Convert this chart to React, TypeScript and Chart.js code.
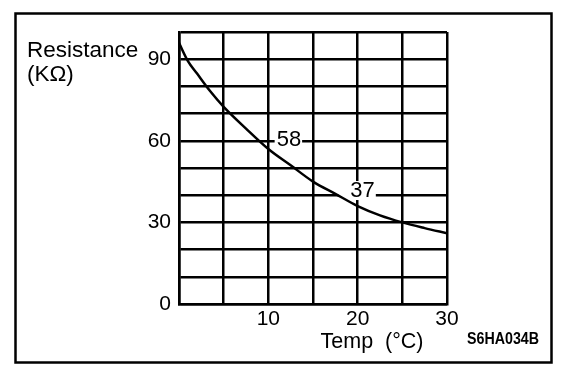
import React, { useEffect, useRef } from "react";
import { Chart, registerables } from "chart.js";

Chart.register(...registerables);

// Data
const temps = [0, 1, 2, 3.5, 5, 7.5, 10, 12.5, 15, 17.5, 20, 22.5, 25, 27.5, 30];
const resistance = [96, 89.3, 84.8, 78.2, 72.5, 64.5, 57, 51, 45, 40.5, 36, 32.6, 30, 27.9, 26];

const xTickLabels = ["10", "20", "30"];
const yTickLabels = ["0", "30", "60", "90"];

const annoLabels = ["58", "37"];
const annoTemps = [12.3, 20.55];
const annoValues = [60.6, 41.9];

const yTitleLines = ["Resistance", "(K\u03A9)"];
const xTitle = "Temp  (\u00B0C)";
const figureCode = "S6HA034B";

const FONT = "'Liberation Sans', Arial, Helvetica, sans-serif";

const decorPlugin = {
  id: "decor",
  beforeDatasetsDraw(chart: any) {
    const ctx = chart.ctx;
    const xs = chart.scales.x;
    const ys = chart.scales.y;
    const gapLeft = [2, 12];
    const gapRight = [1, 1];
    ctx.save();
    ctx.font = `22px ${FONT}`;
    ctx.textAlign = "center";
    ctx.textBaseline = "middle";
    annoLabels.forEach((lab, i) => {
      const px = xs.getPixelForValue(annoTemps[i]);
      const py = ys.getPixelForValue(annoValues[i]);
      const w = ctx.measureText(lab).width;
      ctx.fillStyle = "#fff";
      ctx.fillRect(px - w / 2 - gapLeft[i], py - 9, w + gapLeft[i] + gapRight[i], 19);
      ctx.fillStyle = "#000";
      ctx.fillText(lab, px, py + 1);
    });
    ctx.restore();
  },
  afterDraw(chart: any) {
    const ctx = chart.ctx;
    ctx.save();
    // outer frame
    ctx.strokeStyle = "#000";
    ctx.lineWidth = 2.5;
    ctx.strokeRect(15.5, 13.5, 536, 349);
    // y title
    ctx.fillStyle = "#000";
    ctx.textAlign = "left";
    ctx.textBaseline = "alphabetic";
    ctx.font = `22.5px ${FONT}`;
    ctx.fillText(yTitleLines[0], 27, 57);
    ctx.fillText(yTitleLines[1], 27, 81);
    // x title
    ctx.font = `21.5px ${FONT}`;
    ctx.textAlign = "center";
    ctx.fillText(xTitle, 372, 348);
    // figure code, condensed
    ctx.font = `bold 16px ${FONT}`;
    const w = ctx.measureText(figureCode).width;
    ctx.translate(467, 344);
    ctx.scale(72 / w, 1);
    ctx.textAlign = "left";
    ctx.fillText(figureCode, 0, 0);
    ctx.restore();
  },
};

export default function App() {
  const ref = useRef<HTMLCanvasElement | null>(null);
  useEffect(() => {
    if (!ref.current) return;
    const chart = new Chart(ref.current, {
      type: "line",
      data: {
        datasets: [
          {
            data: temps.map((t, i) => ({ x: t, y: resistance[i] })),
            borderColor: "#000",
            borderWidth: 2.5,
            pointRadius: 0,
            fill: false,
            cubicInterpolationMode: "monotone",
          },
        ],
      },
      options: {
        animation: false,
        responsive: false,
        devicePixelRatio: 1,
        layout: { padding: { left: 0, top: 32, right: 129, bottom: 0 } },
        plugins: { legend: { display: false }, tooltip: { enabled: false }, title: { display: false } },
        scales: {
          x: {
            type: "linear",
            min: 0,
            max: 30,
            afterFit(s: any) {
              s.height = 72;
            },
            border: { display: true, color: "#000", width: 2.5 },
            grid: { color: "#000", lineWidth: 2.5, drawTicks: false },
            ticks: {
              stepSize: 5,
              autoSkip: false,
              maxRotation: 0,
              padding: 3,
              color: "#000",
              font: { family: FONT, size: 21 },
              callback: (v: any) => (xTickLabels.includes(String(v)) ? String(v) : ""),
            },
          },
          y: {
            type: "linear",
            min: 0,
            max: 100,
            afterFit(s: any) {
              s.width = 179;
            },
            border: { display: true, color: "#000", width: 2.5 },
            grid: { color: "#000", lineWidth: 2.5, drawTicks: false },
            ticks: {
              stepSize: 10,
              autoSkip: false,
              padding: 8,
              color: "#000",
              font: { family: FONT, size: 21 },
              callback: (v: any) => (yTickLabels.includes(String(v)) ? String(v) : ""),
            },
          },
        },
      },
      plugins: [decorPlugin],
    } as any);
    return () => chart.destroy();
  }, []);
  return (
    <div style={{ position: "fixed", left: 0, top: 0, width: 576, height: 376, background: "#fff" }}>
      <canvas ref={ref} width={576} height={376} style={{ display: "block" }} />
    </div>
  );
}
